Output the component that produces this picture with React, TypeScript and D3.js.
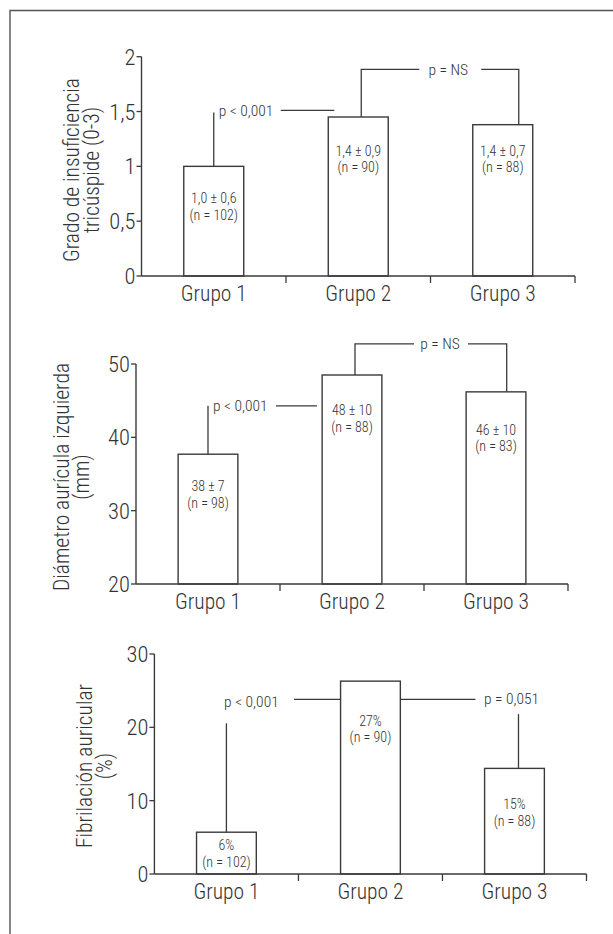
import React from "react";
import * as d3 from "d3";

const categories = ["Grupo 1", "Grupo 2", "Grupo 3"];

// Chart 1: Grado de insuficiencia tricúspide
const tiValues = [1.0, 1.45, 1.38];
const tiLabels = [["1,0 ± 0,6", "(n = 102)"], ["1,4 ± 0,9", "(n = 90)"], ["1,4 ± 0,7", "(n = 88)"]];
const tiLabelAt = [0.636, 1.067, 1.067];
const tiTicks = [0, 0.5, 1, 1.5, 2];
const tiTickLabels = ["0", "0,5", "1", "1,5", "2"];
const tiTitle = ["Grado de insuficiencia", "tricúspide (0-3)"];
const tiP1 = { label: "p < 0,001", top: 1.49, level: 1.51 };
const tiP2 = { label: "p = NS", level: 1.885 };

// Chart 2: Diámetro aurícula izquierda
const daValues = [37.7, 48.5, 46.2];
const daLabels = [["38 ± 7", "(n = 98)"], ["48 ± 10", "(n = 88)"], ["46 ± 10", "(n = 83)"]];
const daLabelAt = [32.2, 42.6, 39.9];
const daTicks = [20, 30, 40, 50];
const daTickLabels = ["20", "30", "40", "50"];
const daTitle = ["Diámetro aurícula izquierda", "(mm)"];
const daP1 = { label: "p < 0,001", top: 44.3, level: 44.3 };
const daP2 = { label: "p = NS", level: 52.75 };

// Chart 3: Fibrilación auricular
const faValues = [5.7, 26.3, 14.4];
const faLabels = [["6%", "(n = 102)"], ["27%", "(n = 90)"], ["15%", "(n = 88)"]];
const faLabelAt = [2.8, 19.8, 8.4];
const faTicks = [0, 10, 20, 30];
const faTickLabels = ["0", "10", "20", "30"];
const faTitle = ["Fibrilación auricular", "(%)"];
const faP1 = { label: "p < 0,001", top: 20.55, level: 23.8, textLevel: 23.5 };
const faP2 = { label: "p = 0,051", top: 21.8, textLevel: 23.95 };

const FONT = "'Liberation Sans Narrow','Arial Narrow','Roboto Condensed','DejaVu Sans Condensed','Liberation Sans',sans-serif";
const INK = "#333";
const LINE = "#3a3a3a";
const FW = 300;
const SMALL = 15.5;
const LABEL = 14;

type ChartProps = {
  x0: number; x1: number; yb: number; yt: number;
  domain: [number, number];
  values: number[]; labels: string[][]; labelAt: number[];
  ticks: number[]; tickLabels: string[];
  title: string[]; titleX: number; titleY: number;
  annot: (x: d3.ScaleBand<string>, y: d3.ScaleLinear<number, number>, values: number[]) => React.ReactNode;
};

function Chart(p: ChartProps) {
  const x = d3.scaleBand<string>().domain(categories).range([p.x0, p.x1]).paddingInner(0.585).paddingOuter(0.2925);
  const y = d3.scaleLinear().domain(p.domain).range([p.yb, p.yt]);
  const step = x.step();
  return (
    <g fontFamily={FONT} fontWeight={FW} fill={INK}>
      {categories.map((c, i) => (
        <rect key={c} x={x(c)} y={y(p.values[i])} width={x.bandwidth()} height={p.yb - y(p.values[i])}
          fill="#fff" stroke={LINE} strokeWidth={1.4} />
      ))}
      {categories.map((c, i) => {
        const cx = (x(c) as number) + x.bandwidth() / 2;
        return (
          <g key={c}>
            <text x={cx} y={y(p.labelAt[i]) - 3.2} textAnchor="middle" fontSize={LABEL}>{p.labels[i][0]}</text>
            <text x={cx} y={y(p.labelAt[i]) + 13.3} textAnchor="middle" fontSize={LABEL}>{p.labels[i][1]}</text>
          </g>
        );
      })}
      {p.annot(x, y, p.values)}
      <line x1={p.x0} x2={p.x0} y1={p.yb} y2={y(p.domain[1])} stroke={LINE} strokeWidth={1.4} />
      {p.ticks.map((t, i) => (
        <g key={t}>
          <line x1={p.x0 - 5} x2={p.x0} y1={y(t)} y2={y(t)} stroke={LINE} strokeWidth={1.3} />
          <text x={p.x0 - 6} y={y(t)} dy="0.36em" textAnchor="end" fontSize={22.5}>
            {p.tickLabels[i]}
          </text>
        </g>
      ))}
      <line x1={p.x0} x2={p.x1} y1={p.yb} y2={p.yb} stroke={LINE} strokeWidth={1.4} />
      {categories.map((c, i) => (
        <g key={c}>
          <line x1={p.x0 + step * (i + 1)} x2={p.x0 + step * (i + 1)} y1={p.yb} y2={p.yb + 7} stroke={LINE} strokeWidth={1.3} />
          <text x={(x(c) as number) + x.bandwidth() / 2} y={p.yb + 25} textAnchor="middle" fontSize={21.5}>
            {c}
          </text>
        </g>
      ))}
      <text transform={`translate(${p.titleX},${p.titleY}) rotate(-90)`} textAnchor="middle" fontSize={21.5}>
        <tspan x={0} dy={0}>{p.title[0]}</tspan>
        <tspan x={0} dy={20}>{p.title[1]}</tspan>
      </text>
    </g>
  );
}

const lineStyle = { stroke: LINE, strokeWidth: 1.3, fill: "none" } as const;

export default function App() {
  return (
    <svg width={613} height={934} style={{ position: "absolute", left: 0, top: 0, background: "#fff" }}
      xmlns="http://www.w3.org/2000/svg">
      <rect x={0} y={0} width={613} height={934} fill="#fff" />
      <path d="M10,934 L10,10.5 L613,10.5" stroke="#555" strokeWidth={1.4} fill="none" />

      <Chart x0={141.5} x1={575} yb={276} yt={56.7} domain={[0, 2]}
        values={tiValues} labels={tiLabels} labelAt={tiLabelAt}
        ticks={tiTicks} tickLabels={tiTickLabels} title={tiTitle} titleX={79} titleY={170}
        annot={(x, y, v) => {
          const c0 = (x(categories[0]) as number) + x.bandwidth() / 2;
          const c1 = (x(categories[1]) as number) + x.bandwidth() / 2;
          const c2 = (x(categories[2]) as number) + x.bandwidth() / 2;
          return (
            <g>
              <path d={`M${c0},${y(v[0])} V${y(tiP1.top)}`} {...lineStyle} />
              <text x={c0 + 5} y={y(tiP1.level)} dy="0.36em" fontSize={SMALL}>{tiP1.label}</text>
              <path d={`M${c0 + 67},${y(tiP1.level)} H${c1 - 24}`} {...lineStyle} />
              <path d={`M${c1 + 3},${y(v[1])} V${y(tiP2.level)} H${c1 + 61}`} {...lineStyle} />
              <text x={c1 + 90} y={y(tiP2.level)} dy="0.36em" textAnchor="middle" fontSize={SMALL}>{tiP2.label}</text>
              <path d={`M${c1 + 123},${y(tiP2.level)} H${c2 + 16} V${y(v[2])}`} {...lineStyle} />
            </g>
          );
        }}
      />

      <Chart x0={136} x1={568} yb={584} yt={364} domain={[20, 50]}
        values={daValues} labels={daLabels} labelAt={daLabelAt}
        ticks={daTicks} tickLabels={daTickLabels} title={daTitle} titleX={68.5} titleY={477}
        annot={(x, y, v) => {
          const c0 = (x(categories[0]) as number) + x.bandwidth() / 2;
          const c1 = (x(categories[1]) as number) + x.bandwidth() / 2;
          const c2 = (x(categories[2]) as number) + x.bandwidth() / 2;
          return (
            <g>
              <path d={`M${c0},${y(v[0])} V${y(daP1.top)}`} {...lineStyle} />
              <text x={c0 + 5} y={y(daP1.level)} dy="0.36em" fontSize={SMALL}>{daP1.label}</text>
              <path d={`M${c0 + 68},${y(daP1.level)} H${c1 - 35}`} {...lineStyle} />
              <path d={`M${c1 + 3},${y(v[1])} V${y(daP2.level)} H${c1 + 62}`} {...lineStyle} />
              <text x={c1 + 88} y={y(daP2.level)} dy="0.36em" textAnchor="middle" fontSize={SMALL}>{daP2.label}</text>
              <path d={`M${c1 + 116},${y(daP2.level)} H${c2 + 10.7} V${y(v[2])}`} {...lineStyle} />
            </g>
          );
        }}
      />

      <Chart x0={154.4} x1={586.5} yb={874} yt={654} domain={[0, 30]}
        values={faValues} labels={faLabels} labelAt={faLabelAt}
        ticks={faTicks} tickLabels={faTickLabels} title={faTitle} titleX={91.5} titleY={766}
        annot={(x, y, v) => {
          const c0 = (x(categories[0]) as number) + x.bandwidth() / 2;
          const c2 = (x(categories[2]) as number) + x.bandwidth() / 2;
          const b1 = x(categories[1]) as number;
          return (
            <g>
              <path d={`M${c0},${y(v[0])} V${y(faP1.top)}`} {...lineStyle} />
              <text x={c0 + 25} y={y(faP1.textLevel)} dy="0.36em" textAnchor="middle" fontSize={SMALL}>{faP1.label}</text>
              <path d={`M${c0 + 67.5},${y(faP1.level)} H${b1}`} {...lineStyle} />
              <path d={`M${b1 + x.bandwidth()},${y(faP1.level)} H${c2 - 39}`} {...lineStyle} />
              <text x={c2 - 3} y={y(faP2.textLevel)} dy="0.36em" textAnchor="middle" fontSize={SMALL}>{faP2.label}</text>
              <path d={`M${c2 + 4},${y(faP2.top)} V${y(v[2])}`} {...lineStyle} />
            </g>
          );
        }}
      />
    </svg>
  );
}
